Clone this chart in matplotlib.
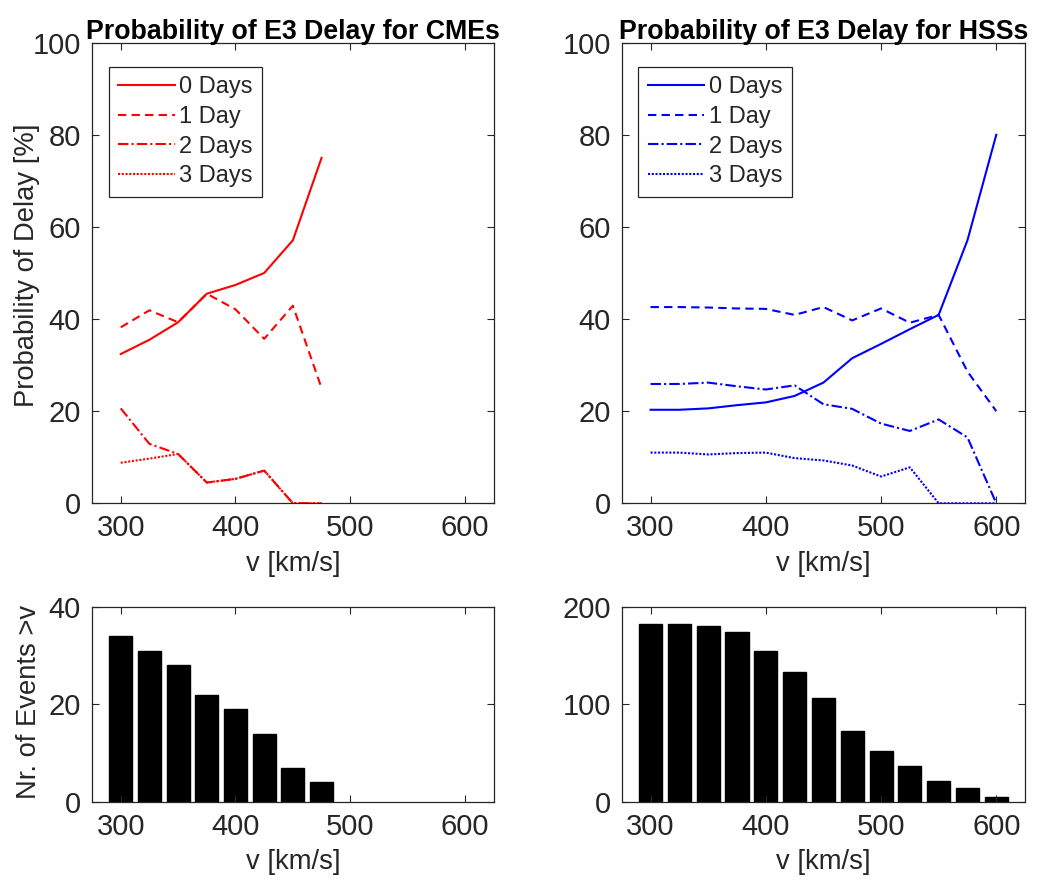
import matplotlib
matplotlib.use("Agg")
import matplotlib.pyplot as plt

plt.rcParams['font.family'] = ['Liberation Sans', 'DejaVu Sans']

# Data
cmeV = [300, 325, 350, 375, 400, 425, 450, 475]
cme0 = [32.4, 35.5, 39.3, 45.5, 47.4, 50.0, 57.1, 75.0]
cme1 = [38.2, 41.9, 39.3, 45.5, 42.1, 35.7, 42.9, 25.0]
cme2 = [20.6, 12.9, 10.7, 4.5, 5.3, 7.1, 0.0, 0.0]
cme3 = [8.8, 9.7, 10.7, 4.5, 5.3, 7.1, 0.0, 0.0]
cmeCount = [34, 31, 28, 22, 19, 14, 7, 4]

hssV = [300, 325, 350, 375, 400, 425, 450, 475, 500, 525, 550, 575, 600]
hss0 = [20.3, 20.3, 20.6, 21.3, 21.9, 23.3, 26.2, 31.5, 34.6, 37.8, 40.9, 57.1, 80.0]
hss1 = [42.6, 42.6, 42.5, 42.3, 42.2, 40.9, 42.6, 39.7, 42.3, 39.2, 40.9, 28.6, 20.0]
hss2 = [25.9, 25.9, 26.2, 25.4, 24.7, 25.6, 21.5, 20.5, 17.3, 15.7, 18.2, 14.3, 0.0]
hss3 = [11.0, 11.0, 10.6, 10.9, 11.0, 9.8, 9.3, 8.2, 5.8, 7.8, 0.0, 0.0, 0.0]
hssCount = [182, 182, 180, 174, 155, 133, 107, 73, 52, 37, 22, 14, 5]

delayLabels = ["0 Days", "1 Day", "2 Days", "3 Days"]
lineStyles = ["-", (0, (4, 2.5)), (0, (5, 1.5, 1, 1.5)), (0, (1, 0.8))]
dark = "#262626"
tickSize = 21
labelSize = 19.7
titleSize = 19.3
legendSize = 17

fig = plt.figure(figsize=(10.46, 8.82), dpi=100)

topL = fig.add_axes([0.088, 0.4294, 0.384, 0.5222])
topR = fig.add_axes([0.5944, 0.4294, 0.3856, 0.5222])
botL = fig.add_axes([0.088, 0.0907, 0.384, 0.2214])
botR = fig.add_axes([0.5944, 0.0907, 0.3856, 0.2214])

def styleAxes(ax):
    ax.set_xlim(275, 625)
    ax.set_xticks([300, 400, 500, 600])
    ax.tick_params(direction="in", length=5, width=0.8, colors=dark,
                   labelsize=tickSize, top=True, right=True, pad=8)
    for sp in ax.spines.values():
        sp.set_color(dark)
        sp.set_linewidth(0.9)
    ax.set_xlabel("v [km/s]", fontsize=labelSize, color=dark, labelpad=6)

# top panels: probability lines
for ax, v, series, col, title in [
        (topL, cmeV, [cme0, cme1, cme2, cme3], "red", "Probability of E3 Delay for CMEs"),
        (topR, hssV, [hss0, hss1, hss2, hss3], "blue", "Probability of E3 Delay for HSSs")]:
    for vals, ls, lab in zip(series, lineStyles, delayLabels):
        ax.plot(v, vals, color=col, linestyle=ls, linewidth=1.5, label=lab)
    styleAxes(ax)
    ax.set_ylim(0, 100)
    ax.set_yticks([0, 20, 40, 60, 80, 100])
    ax.set_title(title, fontsize=titleSize, fontweight="bold", color="black", pad=3)
    leg = ax.legend(loc="upper left", bbox_to_anchor=(0.041, 0.948), borderaxespad=0,
                    fontsize=legendSize, handlelength=2.4, handletextpad=0.2,
                    labelspacing=0.33, borderpad=0.4, fancybox=False, framealpha=1)
    leg.get_frame().set_edgecolor(dark)
    leg.get_frame().set_linewidth(0.9)
    for t in leg.get_texts():
        t.set_color(dark)

topL.set_ylabel("Probability of Delay [%]", fontsize=labelSize, color=dark)
topL.yaxis.set_label_coords(-0.13, 0.517)

# bottom panels: number of events
botL.bar(cmeV, cmeCount, width=20, color="black", edgecolor="black")
styleAxes(botL)
botL.set_ylim(0, 40)
botL.set_yticks([0, 20, 40])
botL.set_ylabel("Nr. of Events >v", fontsize=labelSize, color=dark)
botL.yaxis.set_label_coords(-0.124, 0.51)

botR.bar(hssV, hssCount, width=20, color="black", edgecolor="black")
styleAxes(botR)
botR.set_ylim(0, 200)
botR.set_yticks([0, 100, 200])

fig.savefig("out.png", dpi=100)
